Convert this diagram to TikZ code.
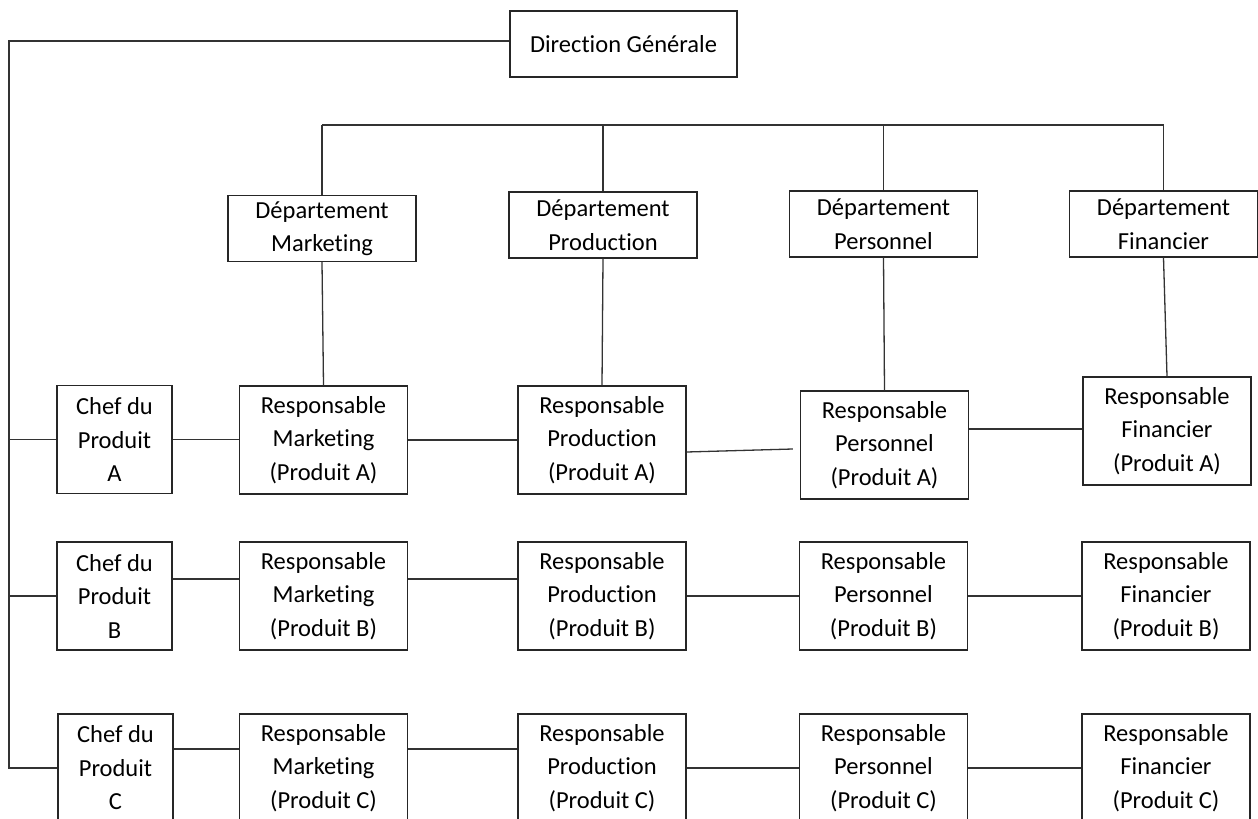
\documentclass[tikz,border=0pt]{standalone}
\usepackage{fontspec}
\setmainfont[Ligatures=NoCommon]{Carlito}
\begin{document}
\begin{tikzpicture}[x=1pt,y=-1pt,
  box/.style={draw=black!85, line width=1.4pt, align=center, inner sep=0pt,
    font=\fontsize{24.5}{33.5}\selectfont, text=black},
  dept/.style={box, minimum width=188, minimum height=66},
  resp/.style={box, minimum width=168, minimum height=108},
  chef/.style={box, minimum width=115, minimum height=108},
  link/.style={draw=black!80, line width=1.3pt}]
\useasboundingbox (0,0) rectangle (1258,819);

% top management
\node[box, minimum width=227, minimum height=66] (dg) at (623.5,44) {Direction Générale};

% departments
\node[dept] (dmk) at (322,228.5) {Département\\Marketing};
\node[dept] (dpr) at (603,225)   {Département\\Production};
\node[dept] (dpe) at (883.5,224) {Département\\Personnel};
\node[dept] (dfi) at (1163.5,224) {Département\\Financier};

% product A
\node[chef] (chefA) at (114.5,439.5) {Chef du\\Produit\\A};
\node[resp] (rmkA) at (323.5,440) {Responsable\\Marketing\\(Produit A)};
\node[resp] (rprA) at (602,440)   {Responsable\\Production\\(Produit A)};
\node[resp] (rpeA) at (884.5,445) {Responsable\\Personnel\\(Produit A)};
\node[resp] (rfiA) at (1167,431)  {Responsable\\Financier\\(Produit A)};

% product B
\node[chef] (chefB) at (114.5,596) {Chef du\\Produit\\B};
\node[resp] (rmkB) at (323.5,596) {Responsable\\Marketing\\(Produit B)};
\node[resp] (rprB) at (602,596)   {Responsable\\Production\\(Produit B)};
\node[resp] (rpeB) at (883.5,596) {Responsable\\Personnel\\(Produit B)};
\node[resp] (rfiB) at (1166,596)  {Responsable\\Financier\\(Produit B)};

% product C
\node[chef] (chefC) at (115.5,768) {Chef du\\Produit\\C};
\node[resp] (rmkC) at (323.5,768) {Responsable\\Marketing\\(Produit C)};
\node[resp] (rprC) at (602,768)   {Responsable\\Production\\(Produit C)};
\node[resp] (rpeC) at (883.5,768) {Responsable\\Personnel\\(Produit C)};
\node[resp] (rfiC) at (1166,768)  {Responsable\\Financier\\(Produit C)};

% helper coordinates
\coordinate (sp) at (9,0);
\coordinate (bus) at (0,125);

% spine from top management to product managers
\draw[link] ([yshift=3pt]dg.west) -| (sp |- chefC.west) -- (chefC.west);
\draw[link] (sp |- chefA.west) -- (chefA.west);
\draw[link] (sp |- chefB.west) -- (chefB.west);

% department bus
\draw[link] (dmk.north |- bus) -- (dfi.north |- bus);
\foreach \d in {dmk,dpr,dpe,dfi}
  \draw[link] (\d.north |- bus) -- (\d.north);

% departments to product A heads
\draw[link] (dmk.south) -- (rmkA.north);
\draw[link] (dpr.south) -- (rprA.north);
\draw[link] (dpe.south) -- (rpeA.north);
\draw[link] (dfi.south) -- (rfiA.north);

% row A
\draw[link] (chefA.east) -- (chefA.east -| rmkA.west);
\draw[link] (rmkA.east) -- (rprA.west);
\draw[link] ([yshift=-12pt]rprA.east) -- ([yshift=-4pt,xshift=-7pt]rpeA.west);
\draw[link] ([yshift=16pt]rpeA.east) -- ([yshift=16pt]rpeA.east -| rfiA.west);

% row B
\draw[link] ([yshift=17pt]chefB.east) -- ([yshift=17pt]chefB.east -| rmkB.west);
\draw[link] ([yshift=17pt]rmkB.east) -- ([yshift=17pt]rmkB.east -| rprB.west);
\draw[link] (rprB.east) -- (rpeB.west);
\draw[link] (rpeB.east) -- (rfiB.west);

% row C
\draw[link] ([yshift=19pt]chefC.east) -- ([yshift=19pt]chefC.east -| rmkC.west);
\draw[link] ([yshift=19pt]rmkC.east) -- ([yshift=19pt]rmkC.east -| rprC.west);
\draw[link] (rprC.east) -- (rpeC.west);
\draw[link] (rpeC.east) -- (rfiC.west);
\end{tikzpicture}
\end{document}
